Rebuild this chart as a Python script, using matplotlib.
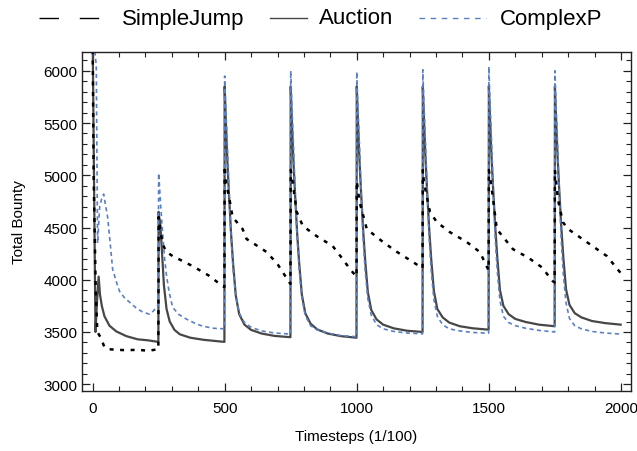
import matplotlib
matplotlib.use("Agg")
import matplotlib.pyplot as plt
from matplotlib.lines import Line2D
from matplotlib.ticker import MultipleLocator

plt.rcParams['font.family'] = ['Liberation Sans', 'DejaVu Sans']

# ---- data ---------------------------------------------------------------
# cycles restart every 250 timesteps; from t=500 on each cycle is sampled
# at the same offsets after its restart
cycle_starts = [500, 750, 1000, 1250, 1500, 1750]
cycle_offsets = [0, 4, 10, 16, 24, 32, 42, 55, 75, 100, 140, 190, 249]

# Auction
auction_head_t = [0, 11, 17, 23, 28, 35, 45, 64, 90, 128, 170, 210, 249,
                  250, 252, 256, 262, 270, 280, 292, 310, 330, 370, 420, 460, 499]
auction_head_v = [6400, 3500, 3800, 4030, 3860, 3750, 3650, 3560, 3505, 3460, 3430, 3420, 3405,
                  4650, 4600, 4550, 4300, 3950, 3720, 3600, 3520, 3478, 3445, 3425, 3415, 3405]
auction_cycles = [
    [5850, 5550, 5150, 4830, 4450, 4150, 3850, 3670, 3570, 3520, 3485, 3462, 3450],
    [5850, 5550, 5150, 4840, 4460, 4160, 3860, 3680, 3580, 3525, 3485, 3460, 3445],
    [5850, 5560, 5160, 4850, 4480, 4180, 3880, 3710, 3620, 3570, 3535, 3512, 3500],
    [5850, 5560, 5170, 4860, 4490, 4190, 3890, 3720, 3640, 3590, 3555, 3535, 3522],
    [5855, 5570, 5180, 4880, 4510, 4210, 3900, 3750, 3670, 3625, 3595, 3570, 3555],
    [5850, 5570, 5180, 4880, 4510, 4210, 3910, 3760, 3680, 3640, 3605, 3585, 3570],
]

# ComplexP
complexp_head_t = [0, 14, 19, 27, 35, 42, 50, 57, 64, 76, 90, 102, 120, 140, 165, 190, 216, 230, 242, 249,
                   250, 252, 258, 265, 272, 280, 290, 303, 325, 356, 390, 417, 460, 499]
complexp_head_v = [6400, 6050, 4350, 4700, 4780, 4820, 4700, 4600, 4420, 4100, 3980, 3890, 3830, 3785, 3730,
                   3690, 3670, 3700, 3740, 3760,
                   5020, 4950, 4700, 4456, 4220, 4035, 3880, 3737, 3670, 3622, 3580, 3555, 3535, 3530]
complexp_cycles = [
    [5950, 5650, 5300, 4900, 4420, 4100, 3850, 3680, 3590, 3545, 3510, 3490, 3480],
    [6000, 5680, 5320, 4900, 4420, 4100, 3830, 3660, 3560, 3520, 3490, 3465, 3455],
    [5990, 5670, 5300, 4880, 4400, 4080, 3820, 3660, 3570, 3530, 3505, 3490, 3482],
    [6010, 5690, 5320, 4890, 4400, 4080, 3810, 3650, 3570, 3530, 3510, 3495, 3488],
    [6040, 5720, 5340, 4900, 4400, 4080, 3800, 3650, 3590, 3560, 3535, 3515, 3500],
    [6000, 5680, 5300, 4860, 4380, 4050, 3780, 3630, 3560, 3530, 3505, 3490, 3480],
]

# SimpleJump
simplejump_t = [0, 4, 12, 18, 30, 45, 60, 90, 130, 170, 210, 249,
                250, 254, 265, 280, 303, 340, 379, 440, 492, 499,
                500, 505, 518, 530, 568, 583, 620, 659, 700, 746, 749,
                750, 757, 773, 796, 848, 909, 947, 975, 999,
                1000, 1010, 1038, 1100, 1150, 1200, 1249,
                1250, 1254, 1277, 1303, 1352, 1417, 1466, 1499,
                1500, 1511, 1530, 1591, 1650, 1700, 1742, 1749,
                1750, 1761, 1780, 1800, 1871, 1947, 1996, 2000]
simplejump_v = [6400, 5000, 3900, 3500, 3450, 3355, 3335, 3330, 3325, 3330, 3320, 3335,
                4600, 4520, 4340, 4265, 4227, 4180, 4130, 4040, 3939, 3930,
                5090, 4930, 4773, 4600, 4485, 4390, 4330, 4265, 4150, 3970, 3960,
                5050, 4936, 4648, 4514, 4418, 4322, 4197, 4100, 4030,
                4945, 4750, 4485, 4360, 4270, 4190, 4110,
                5050, 4936, 4648, 4552, 4456, 4360, 4265, 4090,
                5050, 4869, 4485, 4293, 4210, 4120, 3986, 3975,
                5050, 4773, 4552, 4485, 4360, 4226, 4073, 4060]

x_ticks = [0, 500, 1000, 1500, 2000]
y_ticks = [3000, 3500, 4000, 4500, 5000, 5500, 6000]


def assemble(head_t, head_v, cycles):
    t = list(head_t)
    v = list(head_v)
    for start, vals in zip(cycle_starts, cycles):
        t += [start + o for o in cycle_offsets]
        v += vals
    return t, v


auction_t, auction_v = assemble(auction_head_t, auction_head_v, auction_cycles)
complexp_t, complexp_v = assemble(complexp_head_t, complexp_head_v, complexp_cycles)

# ---- figure -------------------------------------------------------------
W, H = 637, 452
fig = plt.figure(figsize=(W / 100, H / 100), dpi=100)
ax = fig.add_axes([82 / W, 1 - 392 / H, (631 - 82) / W, (392 - 53) / H])

gray = '#474747'
blue = '#5a80c4'

ax.plot(auction_t, auction_v, color=gray, lw=1.6)
ax.plot(complexp_t, complexp_v, color=blue, lw=1.2, dashes=(2.5, 2.0))
ax.plot(simplejump_t, simplejump_v, color='black', lw=1.8, dashes=(1.6, 2.6))

ax.set_xlim(-40, 2038)
ax.set_ylim(2935, 6180)
ax.set_xticks(x_ticks)
ax.set_yticks(y_ticks)
ax.xaxis.set_minor_locator(MultipleLocator(100))
ax.yaxis.set_minor_locator(MultipleLocator(100))
ax.tick_params(which='both', direction='in', top=True, right=True, labelsize=11, color='#222222')
ax.tick_params(which='major', length=6, width=0.9)
ax.tick_params(which='minor', length=3.5, width=0.8)
ax.tick_params(axis='x', pad=7)
for s in ax.spines.values():
    s.set_linewidth(1.0)
    s.set_color('#222222')

ax.set_xlabel('Timesteps (1/100)', fontsize=11, labelpad=10)
ax.set_ylabel('Total Bounty', fontsize=11, labelpad=12)

# ---- legend across the top ---------------------------------------------
def fx(px):
    return px / W


def fy(py):
    return 1 - py / H


ly = 19
fig.add_artist(Line2D([fx(39), fx(100)], [fy(ly), fy(ly)], color='black', lw=1.0,
                      dashes=(14, 15)))
fig.text(fx(122), fy(ly), 'SimpleJump', fontsize=16, va='center', ha='left')
fig.add_artist(Line2D([fx(270), fx(307)], [fy(ly), fy(ly)], color=gray, lw=1.0))
fig.text(fx(319), fy(ly), 'Auction', fontsize=16, va='center', ha='left')
fig.add_artist(Line2D([fx(419), fx(486)], [fy(ly), fy(ly)], color=blue, lw=1.0,
                      dashes=(4, 4)))
fig.text(fx(500), fy(ly), 'ComplexP', fontsize=16, va='center', ha='left')

fig.savefig('out.png', dpi=100)
